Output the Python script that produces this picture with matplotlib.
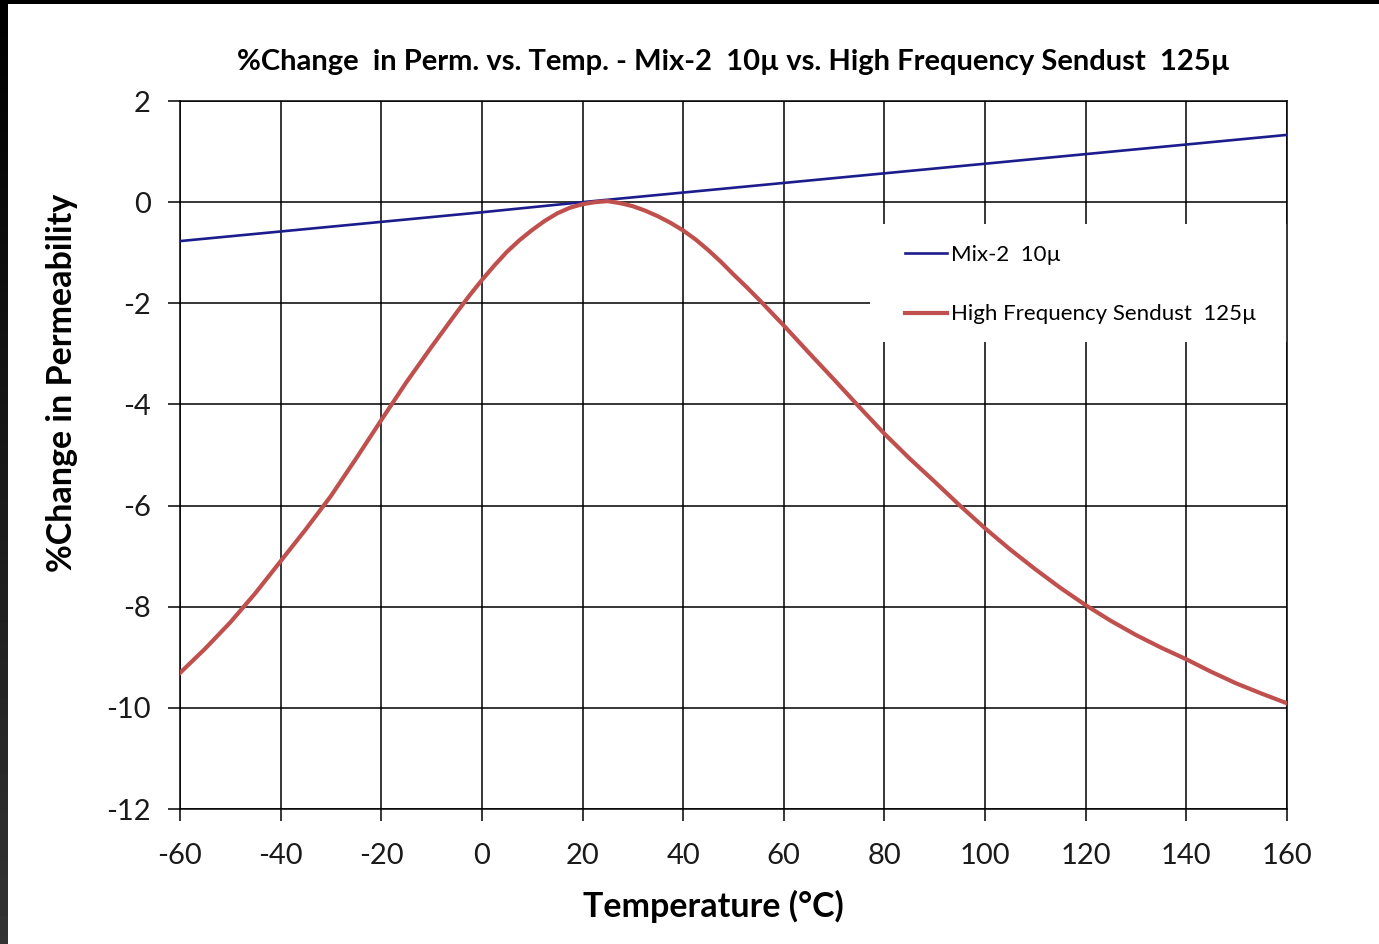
import numpy as np
import matplotlib
matplotlib.use("Agg")
import matplotlib.pyplot as plt
from matplotlib.patches import Rectangle

plt.rcParams['font.family'] = ['Lato', 'DejaVu Sans']
plt.rcParams['axes.unicode_minus'] = False

# temperature (deg C) and % change in permeability
temp_mix = [-60, -40, -20, 0, 20, 40, 60, 80, 100, 120, 140, 160]
perm_mix = [-0.77, -0.58, -0.39, -0.20, 0.0, 0.19, 0.38, 0.57, 0.76, 0.95, 1.14, 1.33]

temp_sendust = [-60, -55, -50, -45, -40, -35, -30, -25, -20, -15,
                -10, -7.5, -5, -2.5, 0, 2.5, 5, 7.5, 10, 12.5, 15, 17.5,
                20, 22.5, 25, 27.5, 30, 32.5, 35, 37.5, 40, 42.5, 45, 47.5,
                50, 52.5, 55, 57.5, 60,
                65, 70, 75, 80, 85, 90, 95, 100, 105, 110, 115, 120, 125,
                130, 135, 140, 145, 150, 155, 160]
perm_sendust = [-9.31, -8.83, -8.31, -7.73, -7.10, -6.47, -5.81, -5.07, -4.31, -3.56,
                -2.86, -2.52, -2.18, -1.85, -1.54, -1.25, -0.98, -0.75, -0.55, -0.37,
                -0.22, -0.11, -0.04, 0.00, 0.02, -0.02, -0.08, -0.17, -0.28, -0.41,
                -0.56, -0.74, -0.95, -1.18, -1.43, -1.67, -1.92, -2.18, -2.44,
                -2.98, -3.51, -4.05, -4.58, -5.07, -5.53, -6.00, -6.45, -6.87,
                -7.26, -7.63, -7.97, -8.28, -8.56, -8.81, -9.04, -9.29, -9.52,
                -9.72, -9.91]

x_ticks = list(range(-60, 161, 20))
y_ticks = list(range(-12, 3, 2))

labels = ['Mix-2  10\u00b5', 'High Frequency Sendust  125\u00b5']
title = '%Change  in Perm. vs. Temp. - Mix-2  10\u00b5 vs. High Frequency Sendust  125\u00b5'

fig = plt.figure(figsize=(13.79, 9.44), dpi=100)
ax = fig.add_axes([0.1305, 0.143, 0.8028, 0.750])

ax.plot(temp_mix, perm_mix, color='#1c1c8c', lw=1.9, label=labels[0], zorder=4)
ax.plot(temp_sendust, perm_sendust, color='#c0504d', lw=3.0, label=labels[1], zorder=4,
        solid_joinstyle='round')

ax.set_xlim(-60, 160)
ax.set_ylim(-12, 2)
ax.set_xticks(x_ticks)
ax.set_yticks(y_ticks)
ax.grid(True, color='black', lw=1.1)
ax.set_axisbelow(True)
for s in ax.spines.values():
    s.set_color('black')
    s.set_linewidth(1.1)
ax.tick_params(axis='both', direction='out', length=8.5, width=1.1,
               labelsize=21, color='black', labelcolor='#1a1a1a')
ax.tick_params(axis='x', pad=16)
ax.tick_params(axis='y', pad=12.5)

ax.set_title(title, fontsize=21, fontweight='bold', pad=22)
ax.set_xlabel('Temperature (\u00b0C)', fontsize=24.5, fontweight='bold')
ax.set_ylabel('%Change in Permeability', fontsize=24.5, fontweight='bold')
ax.xaxis.set_label_coords(0.4815, -0.114)
ax.yaxis.set_label_coords(-0.092, 0.602)

# white legend area cutting through the grid
ax.add_patch(Rectangle((0.623, 0.660), 0.377, 0.166, transform=ax.transAxes,
                       facecolor='white', edgecolor='none', zorder=2))
leg = ax.legend(loc='upper left', bbox_to_anchor=(0.647, 0.809), frameon=False,
                fontsize=16, handlelength=1.9, handletextpad=0.15,
                labelspacing=1.77, borderaxespad=0)
leg.set_zorder(5)

# dark screenshot border (top and left)
fig.patches.append(Rectangle((0, 1 - 4 / 944), 1, 4 / 944, transform=fig.transFigure,
                             facecolor='black', edgecolor='none'))
bax = fig.add_axes([0, 0, 8 / 1379, 1])
bax.imshow(np.linspace(0, 1, 100).reshape(-1, 1), cmap='gray', vmin=0, vmax=5,
           aspect='auto', origin='upper')
bax.axis('off')

fig.savefig('out.png', dpi=100)
